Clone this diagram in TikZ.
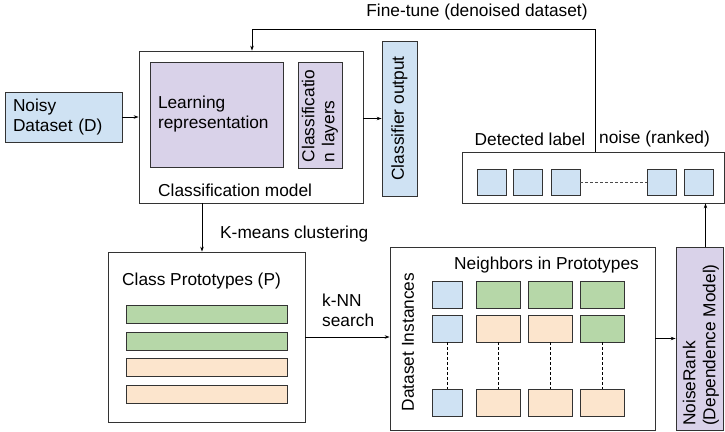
\documentclass[tikz,border=0pt]{standalone}
\usepackage{fontspec}
\setmainfont{Liberation Sans}
\usetikzlibrary{arrows.meta}
\definecolor{dsblue}{HTML}{CFE2F3}
\definecolor{mdpurple}{HTML}{D9D2E9}
\definecolor{ptgreen}{HTML}{B6D7A8}
\definecolor{ptorange}{HTML}{FCE5CD}
\begin{document}
\begin{tikzpicture}[x=1pt,y=-1pt,font=\fontsize{17.3}{20}\selectfont,
  box/.style={draw=black!80,line width=0.8pt,inner sep=0pt},
  lbl/.style={inner sep=0pt},
  arr/.style={-{Stealth[length=5pt,width=3.5pt]},line width=0.7pt},
  dots/.style={dash pattern=on 3pt off 2pt,line width=0.7pt}]
\useasboundingbox (0,0) rectangle (725,431);

% classifier part
\node[box,fill=dsblue,minimum width=117pt,minimum height=50pt,text width=101pt,align=left] (noisy) at (63.5,117) {Noisy\\Dataset (D)};
\node[box,minimum width=224pt,minimum height=152pt] (cls) at (251,127) {};
\node[box,fill=mdpurple,minimum width=133pt,minimum height=105pt,text width=117pt,align=left] (learn) at (216.5,114.5) {Learning\\representation};
\node[box,fill=mdpurple,rotate=90,minimum width=106pt,minimum height=44pt,text width=94pt,align=left] (layers) at (320,115) {Classificatio\\n layers};
\node[lbl,anchor=west] (clslbl) at (158,190) {Classification model};
\node[box,fill=dsblue,rotate=90,minimum width=155pt,minimum height=35pt] (out) at (399.5,118.5) {Classifier output};

% detected noise
\node[box,minimum width=262pt,minimum height=51pt] (det) at (593,177.5) {};
\foreach \i/\xx in {1/491.5,2/528,3/565.5,4/662,5/699}
  \node[box,fill=dsblue,minimum width=29pt,minimum height=26pt] (d\i) at (\xx,182) {};
\draw[dots,black!70] (d3) -- (d4);
\node[lbl] (detl) at (530,139) {Detected label};
\node[lbl] (detr) at (654.5,139) {noise (ranked)};

% fine-tune loop
\node[lbl] (ftlbl) at (477,12) {Fine-tune (denoised dataset)};
\coordinate (ftr) at (595,29);
\coordinate (ftl) at (252,29);
\draw[arr] (det.north -| ftr) -- (ftr) -- (ftl) -- (cls.north -| ftl);

% prototypes
\node[box,minimum width=197pt,minimum height=170pt] (proto) at (206.5,337) {};
\node[lbl,anchor=west] (protolbl) at (122,281) {Class Prototypes (P)};
\foreach \i/\yy/\cc in {1/314.5/ptgreen,2/341/ptgreen,3/367/ptorange,4/394/ptorange}
  \node[box,fill=\cc,minimum width=161pt,minimum height=18pt] (p\i) at (206.5,\yy) {};
\node[lbl,anchor=west] (kmlbl) at (220,234) {K-means clustering};
\node[lbl,anchor=west,align=left] (knnlbl) at (322,310) {k-NN\\search};

% instances and neighbors
\node[box,minimum width=265pt,minimum height=183pt] (inst) at (522.5,338.5) {};
\node[lbl] (nblbl) at (546.5,265) {Neighbors in Prototypes};
\node[lbl,rotate=90] (instlbl) at (408,342) {Dataset Instances};
\foreach \r/\yy/\ca/\cb/\cc in {1/295/ptgreen/ptgreen/ptgreen,2/328.5/ptorange/ptorange/ptgreen,3/402.5/ptorange/ptorange/ptorange} {
  \node[box,fill=dsblue,minimum width=30pt,minimum height=27pt] (b\r) at (447,\yy) {};
  \node[box,fill=\ca,minimum width=44pt,minimum height=27pt] (n\r1) at (498.5,\yy) {};
  \node[box,fill=\cb,minimum width=44pt,minimum height=27pt] (n\r2) at (550.5,\yy) {};
  \node[box,fill=\cc,minimum width=44pt,minimum height=27pt] (n\r3) at (602.5,\yy) {};
}
\draw[dots] (b2) -- (b3);
\foreach \c in {1,2,3}
  \draw[dots] (n2\c) -- (n3\c);

% noise rank
\node[box,fill=mdpurple,minimum width=47pt,minimum height=183pt] (nr) at (699.5,338.5) {};
\node[lbl,rotate=90,anchor=west,align=left] (nrlbl) at (701,426) {NoiseRank\\(Dependence Model)};

% connectors (out is turned, so its left side is out.north)
\draw[arr] (noisy.east) -- (noisy.east -| cls.west);
\draw[arr] (cls.east |- out.north) -- (out.north);
\draw[arr] ([xshift=-4.5pt]proto.north |- cls.south) -- ([xshift=-4.5pt]proto.north);
\draw[arr] (proto.east) -- (proto.east -| inst.west);
\draw[arr] (inst.east) -- (inst.east -| nr.west);
\draw[arr] ([xshift=6pt]nr.north) -- ([xshift=6pt]nr.north |- det.south);
\end{tikzpicture}
\end{document}
